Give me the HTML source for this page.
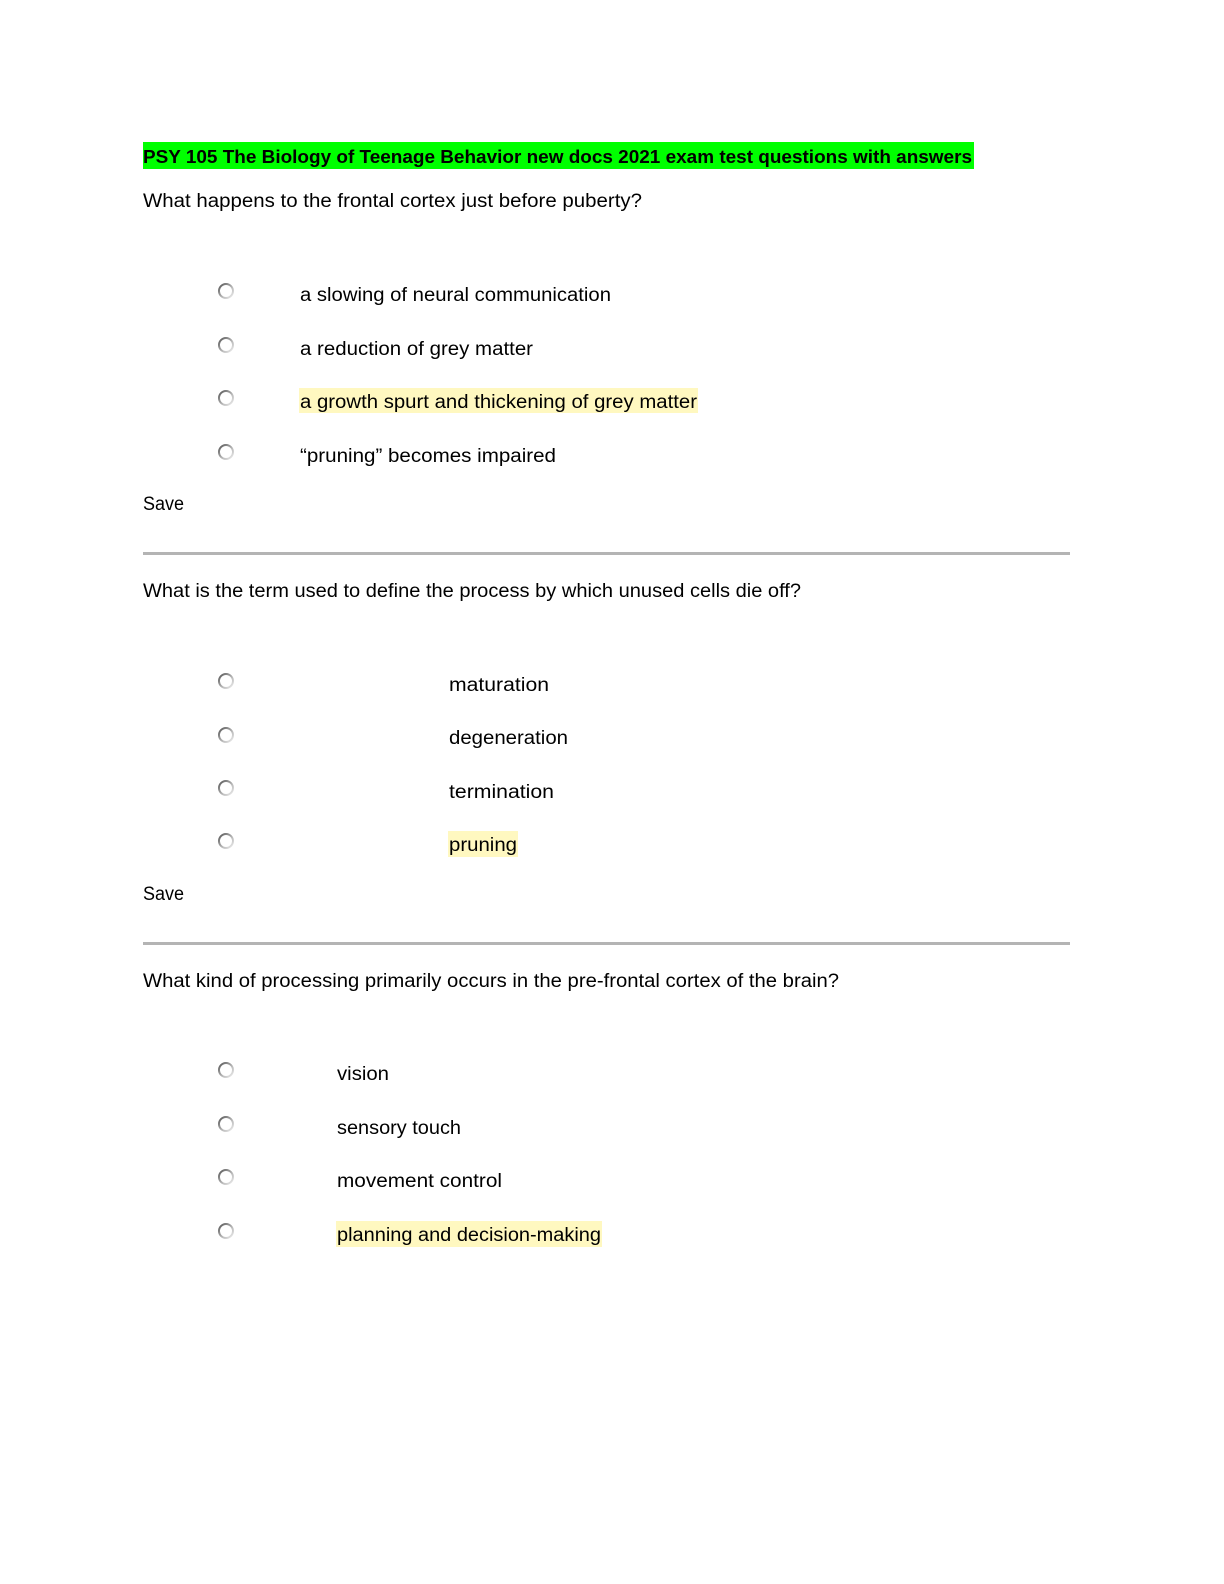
<!DOCTYPE html>
<html><head><meta charset="utf-8"><style>
html,body{margin:0;padding:0;background:#fff;overflow:hidden;width:1224px;height:1584px;}
svg{display:block;position:absolute;left:0;top:0;}
text{font-family:"Liberation Sans",sans-serif;font-size:19px;fill:#000;}
.b{font-weight:bold;font-size:18px;}
</style></head><body>
<svg width="1224" height="1584" xmlns="http://www.w3.org/2000/svg">
<defs>
<linearGradient id="g" x1="0" y1="0" x2="1" y2="1">
<stop offset="0" stop-color="#555"/><stop offset="0.6" stop-color="#bbb"/><stop offset="1" stop-color="#eee"/>
</linearGradient>
<g id="r"><circle r="7" fill="#fff" stroke="url(#g)" stroke-width="2"/></g>
</defs>
<rect x="143" y="142" width="831" height="27" fill="#00ff00"/>
<text class="b" x="143" y="163" textLength="829" lengthAdjust="spacingAndGlyphs">PSY 105 The Biology of Teenage Behavior  new docs 2021 exam test questions with answers</text>
<text x="143" y="207" textLength="499" lengthAdjust="spacingAndGlyphs">What happens to the frontal cortex just before puberty?</text>
<use href="#r" x="226" y="291"/><use href="#r" x="226" y="345"/><use href="#r" x="226" y="398"/><use href="#r" x="226" y="452"/>
<text x="300" y="301" textLength="311" lengthAdjust="spacingAndGlyphs">a slowing of neural communication</text>
<text x="300" y="355" textLength="233" lengthAdjust="spacingAndGlyphs">a reduction of grey matter</text>
<rect x="299" y="388" width="399" height="25" fill="#fff8c0"/>
<text x="300" y="408" textLength="397" lengthAdjust="spacingAndGlyphs">a growth spurt and thickening of grey matter</text>
<text x="300" y="462" textLength="256" lengthAdjust="spacingAndGlyphs">“pruning” becomes impaired</text>
<text x="143" y="510" textLength="41" lengthAdjust="spacingAndGlyphs">Save</text>
<rect x="143" y="552" width="927" height="3" fill="#b4b4b4"/>
<text x="143" y="597" textLength="658" lengthAdjust="spacingAndGlyphs">What is the term used to define the process by which unused cells die off?</text>
<use href="#r" x="226" y="681"/><use href="#r" x="226" y="735"/><use href="#r" x="226" y="788"/><use href="#r" x="226" y="841"/>
<text x="449" y="691" textLength="100" lengthAdjust="spacingAndGlyphs">maturation</text>
<text x="449" y="744" textLength="119" lengthAdjust="spacingAndGlyphs">degeneration</text>
<text x="449" y="798" textLength="105" lengthAdjust="spacingAndGlyphs">termination</text>
<rect x="448" y="831" width="70" height="26" fill="#fff8c0"/>
<text x="449" y="851" textLength="68" lengthAdjust="spacingAndGlyphs">pruning</text>
<text x="143" y="900" textLength="41" lengthAdjust="spacingAndGlyphs">Save</text>
<rect x="143" y="942" width="927" height="3" fill="#b4b4b4"/>
<text x="143" y="987" textLength="696" lengthAdjust="spacingAndGlyphs">What kind of processing primarily occurs in the pre-frontal cortex of the brain?</text>
<use href="#r" x="226" y="1070"/><use href="#r" x="226" y="1124"/><use href="#r" x="226" y="1177"/><use href="#r" x="226" y="1231"/>
<text x="337" y="1080" textLength="52" lengthAdjust="spacingAndGlyphs">vision</text>
<text x="337" y="1134" textLength="124" lengthAdjust="spacingAndGlyphs">sensory touch</text>
<text x="337" y="1187" textLength="165" lengthAdjust="spacingAndGlyphs">movement control</text>
<rect x="336" y="1221" width="266" height="26" fill="#fff8c0"/>
<text x="337" y="1241" textLength="264" lengthAdjust="spacingAndGlyphs">planning and decision-making</text>
</svg>
</body></html>
